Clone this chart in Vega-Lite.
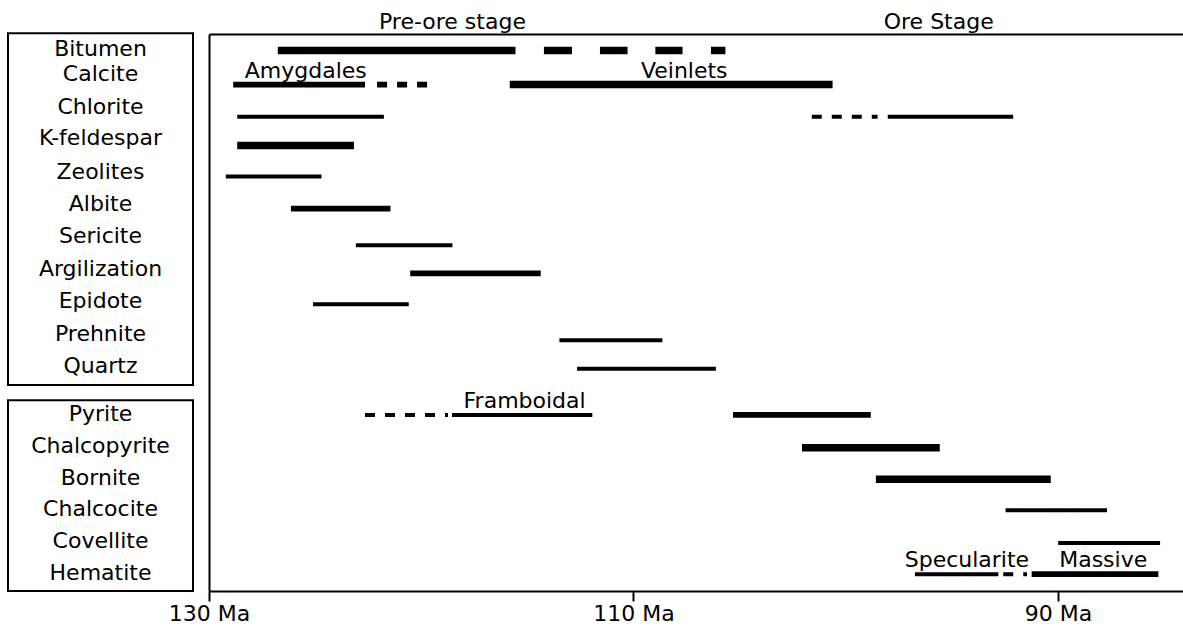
{
  "$schema": "https://vega.github.io/schema/vega-lite/v6.json",
  "padding": {"left": 7, "top": 10, "right": 0, "bottom": 0},
  "bounds": "flush",
  "spacing": 16,
  "config": {"view": {"stroke": null}, "font": "DejaVu Sans"},
  "datasets": {
    "labels": [
      {"mineral": "Bitumen", "row": -0.04},
      {"mineral": "Calcite", "row": 0.75},
      {"mineral": "Chlorite", "row": 1.79},
      {"mineral": "K-feldespar", "row": 2.77},
      {"mineral": "Zeolites", "row": 3.84},
      {"mineral": "Albite", "row": 4.85},
      {"mineral": "Sericite", "row": 5.85},
      {"mineral": "Argilization", "row": 6.89},
      {"mineral": "Epidote", "row": 7.89},
      {"mineral": "Prehnite", "row": 8.93},
      {"mineral": "Quartz", "row": 9.93},
      {"mineral": "Pyrite", "row": 11.45},
      {"mineral": "Chalcopyrite", "row": 12.44},
      {"mineral": "Bornite", "row": 13.44},
      {"mineral": "Chalcocite", "row": 14.43},
      {"mineral": "Covellite", "row": 15.43},
      {"mineral": "Hematite", "row": 16.42}
    ],
    "groups": [
      {"group": "Gangue and alteration", "top": -0.52, "bottom": 10.53},
      {"group": "Ore minerals", "top": 11.01, "bottom": 17.0}
    ],
    "segments": [
      {"mineral": "Bitumen", "row": 0.02, "start": 126.76, "end": 115.56, "abundance": "abundant", "evidence": "observed"},
      {"mineral": "Bitumen", "row": 0.02, "start": 114.22, "end": 112.9, "abundance": "abundant", "evidence": "observed"},
      {"mineral": "Bitumen", "row": 0.02, "start": 111.58, "end": 110.28, "abundance": "abundant", "evidence": "observed"},
      {"mineral": "Bitumen", "row": 0.02, "start": 108.97, "end": 107.69, "abundance": "abundant", "evidence": "observed"},
      {"mineral": "Bitumen", "row": 0.02, "start": 106.35, "end": 105.67, "abundance": "abundant", "evidence": "observed"},
      {"mineral": "Calcite", "row": 1.09, "start": 128.86, "end": 122.65, "abundance": "common", "evidence": "observed"},
      {"mineral": "Calcite", "row": 1.09, "start": 122.08, "end": 119.54, "abundance": "common", "evidence": "inferred"},
      {"mineral": "Calcite", "row": 1.09, "start": 115.83, "end": 100.62, "abundance": "abundant", "evidence": "observed"},
      {"mineral": "Chlorite", "row": 2.1, "start": 128.67, "end": 121.76, "abundance": "minor", "evidence": "observed"},
      {"mineral": "Chlorite", "row": 2.1, "start": 101.6, "end": 98.5, "abundance": "minor", "evidence": "inferred"},
      {"mineral": "Chlorite", "row": 2.1, "start": 98.02, "end": 92.11, "abundance": "minor", "evidence": "observed"},
      {"mineral": "K-feldespar", "row": 3.0, "start": 128.67, "end": 123.17, "abundance": "abundant", "evidence": "observed"},
      {"mineral": "Zeolites", "row": 3.98, "start": 129.21, "end": 124.7, "abundance": "minor", "evidence": "observed"},
      {"mineral": "Albite", "row": 4.99, "start": 126.14, "end": 121.45, "abundance": "common", "evidence": "observed"},
      {"mineral": "Sericite", "row": 6.14, "start": 123.08, "end": 118.53, "abundance": "minor", "evidence": "observed"},
      {"mineral": "Argilization", "row": 7.02, "start": 120.52, "end": 114.37, "abundance": "common", "evidence": "observed"},
      {"mineral": "Epidote", "row": 7.99, "start": 125.1, "end": 120.59, "abundance": "minor", "evidence": "observed"},
      {"mineral": "Prehnite", "row": 9.12, "start": 113.49, "end": 108.64, "abundance": "minor", "evidence": "observed"},
      {"mineral": "Quartz", "row": 10.02, "start": 112.66, "end": 106.12, "abundance": "minor", "evidence": "observed"},
      {"mineral": "Pyrite", "row": 11.47, "start": 122.65, "end": 118.74, "abundance": "minor", "evidence": "inferred"},
      {"mineral": "Pyrite", "row": 11.47, "start": 118.55, "end": 111.94, "abundance": "minor", "evidence": "observed"},
      {"mineral": "Pyrite", "row": 11.47, "start": 105.31, "end": 98.82, "abundance": "common", "evidence": "observed"},
      {"mineral": "Chalcopyrite", "row": 12.5, "start": 102.06, "end": 95.57, "abundance": "abundant", "evidence": "observed"},
      {"mineral": "Bornite", "row": 13.49, "start": 98.58, "end": 90.34, "abundance": "abundant", "evidence": "observed"},
      {"mineral": "Chalcocite", "row": 14.46, "start": 92.47, "end": 87.69, "abundance": "minor", "evidence": "observed"},
      {"mineral": "Covellite", "row": 15.49, "start": 89.99, "end": 85.19, "abundance": "minor", "evidence": "observed"},
      {"mineral": "Hematite", "row": 16.47, "start": 96.74, "end": 92.81, "abundance": "minor", "evidence": "observed"},
      {"mineral": "Hematite", "row": 16.47, "start": 92.58, "end": 91.46, "abundance": "minor", "evidence": "inferred"},
      {"mineral": "Hematite", "row": 16.47, "start": 91.24, "end": 85.27, "abundance": "common", "evidence": "observed"}
    ],
    "notes": [
      {"label": "Amygdales", "mid": 125.44, "row": 1.09},
      {"label": "Veinlets", "mid": 107.61, "row": 1.09},
      {"label": "Framboidal", "mid": 115.13, "row": 11.47},
      {"label": "Specularite", "mid": 94.29, "row": 16.47},
      {"label": "Massive", "mid": 87.87, "row": 16.47}
    ],
    "stages": [
      {"stage": "Pre-ore stage", "mid": 118.53, "row": -0.67},
      {"stage": "Ore Stage", "mid": 95.62, "row": -0.67}
    ]
  },
  "hconcat": [
    {
      "width": 185,
      "height": 557,
      "layer": [
        {
          "data": {"name": "groups"},
          "mark": {"type": "rect", "fill": null, "fillOpacity": 0, "stroke": "black", "strokeWidth": 2},
          "encoding": {
            "y": {"field": "top", "type": "quantitative", "scale": {"domain": [-0.5, 17], "nice": false, "zero": false, "reverse": true}, "axis": null},
            "y2": {"field": "bottom"}
          }
        },
        {
          "data": {"name": "labels"},
          "mark": {"type": "text", "fontSize": 22, "color": "black", "baseline": "middle", "align": "center"},
          "encoding": {
            "y": {"field": "row", "type": "quantitative", "scale": {"domain": [-0.5, 17], "nice": false, "zero": false, "reverse": true}, "axis": null},
            "text": {"field": "mineral"}
          }
        }
      ]
    },
    {
      "width": 974,
      "height": 557,
      "resolve": {"axis": {"x": "independent"}},
      "layer": [
        {
          "data": {"name": "segments"},
          "mark": {"type": "rule", "color": "black", "strokeCap": "butt"},
          "encoding": {
            "x": {
              "field": "start", "type": "quantitative",
              "scale": {"domain": [84.11, 130], "nice": false, "zero": false, "reverse": true},
              "axis": {
                "orient": "bottom", "values": [130, 110, 90], "labelExpr": "datum.value + ' Ma'",
                "tickSize": 10, "tickWidth": 2, "tickColor": "black", "domainColor": "black", "domainWidth": 2,
                "labelFontSize": 22, "labelFont": "DejaVu Sans", "labelColor": "black", "labelPadding": 2,
                "labelFlush": false, "labelOverlap": false, "grid": false, "title": null
              }
            },
            "x2": {"field": "end"},
            "y": {
              "field": "row", "type": "quantitative",
              "scale": {"domain": [-0.5, 17], "nice": false, "zero": false, "reverse": true},
              "axis": {"domain": true, "domainColor": "black", "domainWidth": 2, "ticks": false, "labels": false, "grid": false, "title": null}
            },
            "strokeWidth": {"field": "abundance", "type": "ordinal", "scale": {"domain": ["abundant", "common", "minor"], "range": [7.5, 4, 1.8]}, "legend": null},
            "strokeDash": {"field": "evidence", "type": "nominal", "scale": {"domain": ["observed", "inferred"], "range": [[1, 0], [10, 10]]}, "legend": null}
          }
        },
        {
          "data": {"name": "notes"},
          "mark": {"type": "text", "fontSize": 22, "color": "black", "baseline": "alphabetic", "align": "center", "dy": -7},
          "encoding": {
            "x": {"field": "mid", "type": "quantitative", "scale": {"domain": [84.11, 130], "nice": false, "zero": false, "reverse": true}, "axis": null},
            "y": {
              "field": "row", "type": "quantitative",
              "scale": {"domain": [-0.5, 17], "nice": false, "zero": false, "reverse": true},
              "axis": {"domain": true, "domainColor": "black", "domainWidth": 2, "ticks": false, "labels": false, "grid": false, "title": null}
            },
            "text": {"field": "label"}
          }
        },
        {
          "data": {"name": "stages"},
          "mark": {"type": "text", "fontSize": 22, "color": "black", "baseline": "alphabetic", "align": "center"},
          "encoding": {
            "x": {
              "field": "mid", "type": "quantitative",
              "scale": {"domain": [84.11, 130], "nice": false, "zero": false, "reverse": true},
              "axis": {"orient": "top", "domain": true, "domainColor": "black", "domainWidth": 2, "ticks": false, "labels": false, "grid": false, "title": null}
            },
            "y": {
              "field": "row", "type": "quantitative",
              "scale": {"domain": [-0.5, 17], "nice": false, "zero": false, "reverse": true},
              "axis": {"domain": true, "domainColor": "black", "domainWidth": 2, "ticks": false, "labels": false, "grid": false, "title": null}
            },
            "text": {"field": "stage"}
          }
        }
      ]
    }
  ]
}
